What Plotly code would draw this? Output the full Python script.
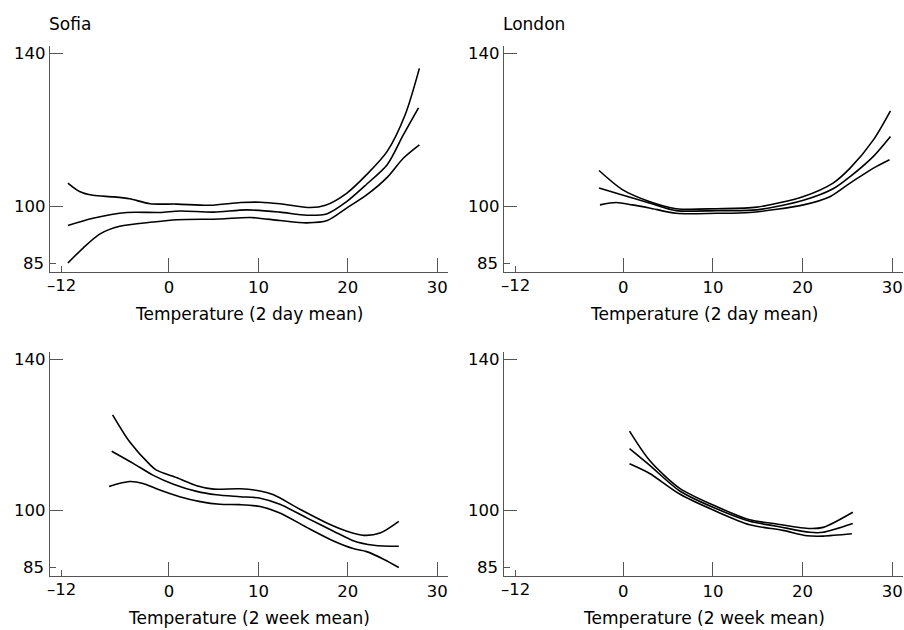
import plotly.graph_objects as go

# ---- data ----
# Sofia, 2 day mean
s2d_up_x = [-11.3, -10.0, -8.5, -6.2, -4.4, -2.1, 0.9, 4.6, 8.0, 10.2, 12.4, 15.8, 17.5, 19.9, 22.1, 24.4, 26.4, 28.0]
s2d_up = [106.1, 103.9, 102.9, 102.5, 102.0, 100.7, 100.6, 100.3, 101.0, 101.1, 100.7, 99.7, 100.3, 103.5, 108.3, 114.4, 123.9, 136.1]
s2d_mid_x = [-11.3, -8.5, -4.7, -1.0, 1.2, 5.0, 8.7, 12.4, 15.4, 17.7, 19.9, 22.1, 24.4, 26.2, 27.9]
s2d_mid = [95.0, 96.9, 98.4, 98.4, 98.8, 98.5, 99.1, 98.5, 97.7, 98.1, 101.3, 105.8, 110.9, 118.7, 125.8]
s2d_lo_x = [-11.3, -9.6, -7.7, -5.5, -1.8, 0.9, 5.7, 9.1, 12.4, 15.4, 17.7, 19.9, 22.1, 24.4, 26.2, 28.0]
s2d_lo = [85.2, 89.1, 92.8, 94.8, 95.9, 96.5, 96.7, 97.1, 96.3, 95.7, 96.3, 99.6, 103.0, 107.6, 112.6, 116.1]

# London, 2 day mean
l2d_x = [-2.7, -0.1, 2.9, 5.9, 10.4, 14.9, 20.1, 23.4, 25.3, 27.9, 29.8]
l2d_up = [109.4, 104.4, 101.3, 99.4, 99.4, 99.8, 102.6, 106.1, 110.0, 117.4, 125.0]
l2d_mid = [104.8, 103.0, 100.9, 98.9, 98.9, 99.1, 101.6, 104.6, 107.8, 113.1, 118.3]
l2d_lo_x = [-2.6, -0.8, 1.0, 2.9, 5.9, 10.4, 14.1, 20.1, 23.1, 25.3, 27.9, 29.7]
l2d_lo = [100.4, 101.0, 100.4, 99.6, 98.2, 98.2, 98.4, 100.4, 102.6, 106.1, 110.0, 112.2]

# Sofia, 2 week mean
s2w_up_x = [-6.3, -4.4, -2.1, -1.4, 0.9, 3.1, 5.0, 7.95, 10.2, 11.7, 14.7, 17.7, 19.9, 21.8, 23.6, 25.7]
s2w_up = [125.3, 118.2, 112.1, 110.7, 108.7, 106.6, 105.7, 105.8, 105.2, 104.2, 100.3, 96.7, 94.6, 93.5, 94.1, 97.2]
s2w_mid_x = [-6.4, -4.0, -1.8, 0.5, 3.1, 5.3, 7.95, 10.2, 12.4, 15.4, 18.4, 20.6, 22.9, 25.7]
s2w_mid = [115.7, 112.5, 109.4, 107.0, 105.1, 104.2, 103.7, 103.3, 101.7, 98.1, 94.6, 92.1, 90.9, 90.6]
s2w_lo_x = [-6.7, -4.4, -2.9, -1.4, 1.2, 3.5, 5.7, 7.95, 10.2, 12.4, 15.4, 18.4, 20.6, 22.1, 24.0, 25.7]
s2w_lo = [106.4, 107.7, 107.2, 105.8, 103.7, 102.4, 101.7, 101.6, 101.1, 99.4, 95.6, 92.0, 90.0, 89.2, 87.2, 85.0]

# London, 2 week mean
l2w_x = [0.7, 2.9, 6.3, 10.4, 14.1, 17.1, 20.8, 22.3, 25.6]
l2w_up = [121.0, 113.4, 105.9, 101.1, 97.6, 96.5, 95.3, 95.6, 99.6]
l2w_mid = [116.4, 112.1, 105.2, 100.5, 97.2, 95.9, 94.3, 94.3, 96.6]
l2w_lo_x = [0.7, 2.9, 6.3, 10.4, 14.1, 17.8, 20.5, 22.3, 25.5]
l2w_lo = [112.4, 109.9, 104.4, 99.8, 96.3, 94.8, 93.4, 93.3, 93.9]

x_major = [0, 10, 20, 30]
x_minor = [-12]
y_major = [100, 140]
y_minor = [85]
x_titles = ["Temperature (2 day mean)", "Temperature (2 day mean)",
            "Temperature (2 week mean)", "Temperature (2 week mean)"]
city_titles = ["Sofia", "London"]

panels = [
    [(s2d_up_x, s2d_up), (s2d_mid_x, s2d_mid), (s2d_lo_x, s2d_lo)],
    [(l2d_x, l2d_up), (l2d_x, l2d_mid), (l2d_lo_x, l2d_lo)],
    [(s2w_up_x, s2w_up), (s2w_mid_x, s2w_mid), (s2w_lo_x, s2w_lo)],
    [(l2w_x, l2w_up), (l2w_x, l2w_mid), (l2w_lo_x, l2w_lo)],
]

FONT = "DejaVu Sans"
AXC = "#555555"
TICK_SIZE = 16.5
TITLE_SIZE = 17

fig = go.Figure()
for i, curves in enumerate(panels):
    sfx = "" if i == 0 else str(i + 1)
    for cx, cy in curves:
        fig.add_trace(go.Scatter(x=cx, y=cy, mode="lines",
                                 line=dict(color="black", width=1.6, shape="spline", smoothing=0.8),
                                 xaxis="x" + sfx, yaxis="y" + sfx, showlegend=False, hoverinfo="skip"))

W, H = 904, 630
xdoms = [[50 / W, 448 / W], [504 / W, 903 / W]]
ydoms = [[1 - 271 / H, 1 - 44 / H], [1 - 575.7 / H, 1 - 350.7 / H]]

layout = dict(width=W, height=H, margin=dict(l=0, r=0, t=0, b=0),
              paper_bgcolor="white", plot_bgcolor="white", showlegend=False,
              font=dict(family=FONT, size=TICK_SIZE, color="black"))
annotations = []
for i in range(4):
    sfx = "" if i == 0 else str(i + 1)
    col, row = i % 2, i // 2
    layout["xaxis" + sfx] = dict(domain=xdoms[col], range=[-13.3, 31.2], anchor="y" + sfx,
                                 showline=True, linecolor=AXC, linewidth=1.3, showgrid=False, zeroline=False,
                                 tickmode="array", tickvals=x_major, ticktext=[str(v) for v in x_major],
                                 ticks="inside", ticklen=14, tickwidth=1.3, tickcolor=AXC,
                                 tickfont=dict(size=TICK_SIZE, family=FONT),
                                 minor=dict(tickmode="array", tickvals=x_minor, ticks="inside", ticklen=6,
                                            tickwidth=1.3, tickcolor=AXC, showgrid=False),
                                 fixedrange=True)
    layout["yaxis" + sfx] = dict(domain=ydoms[row], range=[82.8, 142], anchor="x" + sfx,
                                 showline=True, linecolor=AXC, linewidth=1.3, showgrid=False, zeroline=False,
                                 tickmode="array", tickvals=y_major, ticktext=[str(v) for v in y_major],
                                 ticks="inside", ticklen=13, tickwidth=1.3, tickcolor=AXC,
                                 tickfont=dict(size=TICK_SIZE, family=FONT),
                                 minor=dict(tickmode="array", tickvals=y_minor, ticks="inside", ticklen=6,
                                            tickwidth=1.3, tickcolor=AXC, showgrid=False),
                                 fixedrange=True)
    xa = "x" + sfx
    ya = "y" + sfx
    # labels for the short ticks
    annotations.append(dict(x=x_minor[0], xref=xa, y=0, yref=ya + " domain", yanchor="top", xanchor="center",
                            yshift=-2, text="\u2013" + str(abs(x_minor[0])), showarrow=False,
                            font=dict(size=TICK_SIZE, family=FONT)))
    annotations.append(dict(x=0, xref=xa + " domain", y=y_minor[0], yref=ya, xanchor="right", yanchor="middle",
                            xshift=-4, text=str(y_minor[0]), showarrow=False,
                            font=dict(size=TICK_SIZE, family=FONT)))
    # x titles
    annotations.append(dict(x=0.5, xref=xa + " domain", y=0, yref=ya + " domain", yanchor="middle",
                            yshift=-42, text=x_titles[i], showarrow=False,
                            font=dict(size=TITLE_SIZE, family=FONT)))

for col, name in enumerate(city_titles):
    annotations.append(dict(x=xdoms[col][0] - 3 / W, xref="paper", y=1 - 22 / H, yref="paper",
                            xanchor="left", yanchor="middle", text=name, showarrow=False,
                            font=dict(size=TITLE_SIZE, family=FONT)))

layout["annotations"] = annotations
fig.update_layout(**layout)
fig.write_html("out.html", config={"displayModeBar": False},
               post_script="document.body.style.margin='0px';document.body.style.overflow='hidden';")
